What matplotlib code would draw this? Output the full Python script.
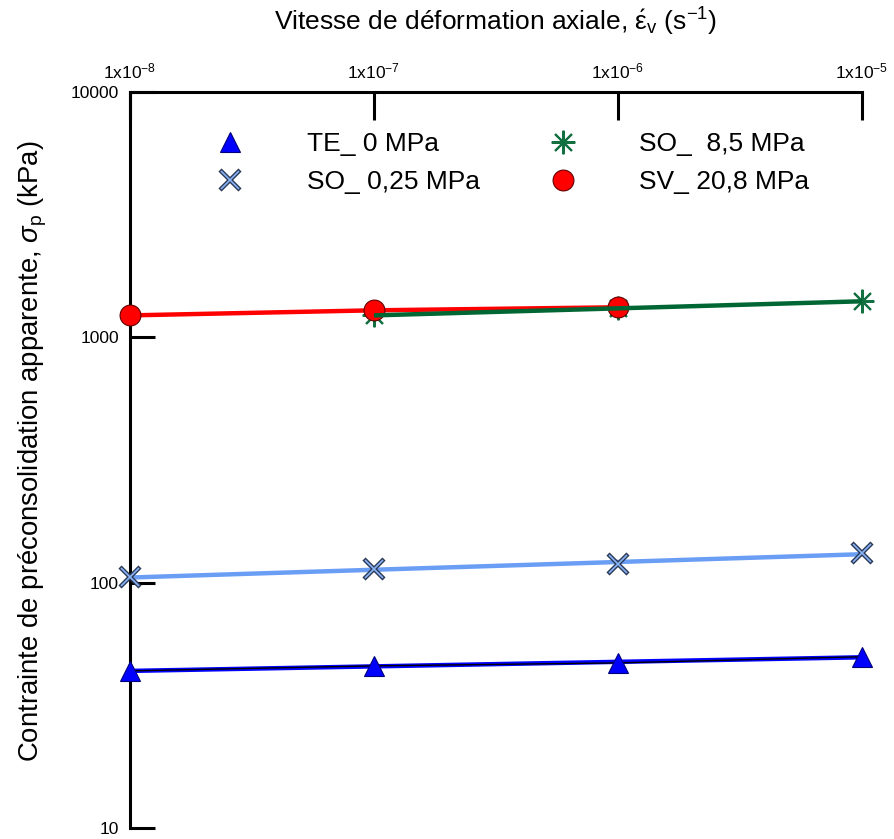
import numpy as np
import matplotlib
matplotlib.use("Agg")
import matplotlib.pyplot as plt
from matplotlib.lines import Line2D
from matplotlib.legend_handler import HandlerTuple

plt.rcParams['font.family'] = ['Liberation Sans', 'DejaVu Sans']
plt.rcParams['mathtext.fontset'] = 'custom'
plt.rcParams['mathtext.rm'] = 'Liberation Sans'
plt.rcParams['mathtext.it'] = 'Liberation Sans:italic'

# vitesses de deformation (s-1)
rates = [1e-8, 1e-7, 1e-6, 1e-5]

# contrainte de preconsolidation (kPa)
te_0 = [43.7, 45.8, 47.1, 49.9]
so_025 = [105, 114, 119, 132]
so_85_rates = [1e-7, 1e-6, 1e-5]
so_85 = [1229, 1313, 1403]
sv_208_rates = [1e-8, 1e-7, 1e-6]
sv_208 = [1229, 1289, 1326]

x_ticks = [1e-8, 1e-7, 1e-6, 1e-5]
x_ticklabels = [r'1x10$^{-8}$', r'1x10$^{-7}$', r'1x10$^{-6}$', r'1x10$^{-5}$']
y_ticks = [10, 100, 1000, 10000]
y_ticklabels = ['10', '100', '1000', '10000']


def fit_line(x, y):
    # droite de tendance en log-log
    lx, ly = np.log10(x), np.log10(y)
    a, b = np.polyfit(lx, ly, 1)
    return np.array(x), 10 ** (a * lx + b)


fig = plt.figure(figsize=(8.94, 8.39), dpi=100)
ax = fig.add_axes([0.1454, 0.0131, 0.8188, 0.8772])
ax.set_xscale('log')
ax.set_yscale('log')
ax.set_xlim(1e-8, 1e-5)
ax.set_ylim(10, 10000)

# TE_ 0 MPa
fx, fy = fit_line(rates, te_0)
ax.plot(fx, fy, color='#0000ff', lw=3.2, zorder=2, solid_capstyle='butt')
ax.plot(rates, te_0, color='black', lw=1.0, zorder=3)
ax.plot(rates, te_0, ls='none', marker='^', ms=14.5, mfc='#0000ff', mec='#00007a',
        mew=0.8, zorder=4, clip_on=False)

# SO_ 0,25 MPa
fx, fy = fit_line(rates, so_025)
ax.plot(fx, fy, color='#6a9ef5', lw=3.2, zorder=2, solid_capstyle='butt')
ax.plot(rates, so_025, ls='none', marker='x', ms=14, mec='#2b3a55', mew=3.2,
        zorder=4, clip_on=False)
ax.plot(rates, so_025, ls='none', marker='x', ms=13, mec='#8ab4f8', mew=1.2,
        zorder=5, clip_on=False)

# SV_ 20,8 MPa
ax.plot(sv_208_rates, sv_208, color='#ff0000', lw=3.2, zorder=2, solid_capstyle='butt')
# SO_ 8,5 MPa
ax.plot(so_85_rates, so_85, ls='none', marker=(8, 2, 0), ms=17, mec='#137040',
        mew=1.5, zorder=4, clip_on=False)
ax.plot(sv_208_rates, sv_208, ls='none', marker='o', ms=15, mfc='#ff0000', mec='#600000',
        mew=0.8, zorder=5, clip_on=False)
ax.plot(so_85_rates, so_85, color='#006633', lw=3.2, zorder=6, solid_capstyle='butt')

# axes
for side in ['bottom', 'right']:
    ax.spines[side].set_visible(False)
for side in ['top', 'left']:
    ax.spines[side].set_linewidth(2.2)
ax.xaxis.set_ticks_position('top')
ax.xaxis.set_label_position('top')
ax.set_xticks(x_ticks)
ax.set_xticklabels(x_ticklabels)
ax.set_yticks(y_ticks)
ax.set_yticklabels(y_ticklabels)
ax.minorticks_off()
ax.tick_params(axis='x', direction='in', length=20, width=2.2, pad=8, labelsize=12.5)
ax.tick_params(axis='y', direction='in', length=18, width=2.2, pad=8, labelsize=12.5)

ax.set_xlabel(r'Vitesse de déformation axiale, $\mathrm{\acute{\epsilon}}_{\rm v}$ (s$^{-1}$)',
              fontsize=19, labelpad=22)
ax.set_ylabel(r'Contrainte de préconsolidation apparente, $\sigma_{\rm p}$ (kPa)',
              fontsize=19.8)
ax.yaxis.set_label_coords(-0.111, 0.512)

# legende
x_under = Line2D([], [], ls='none', marker='x', ms=14, mec='#2b3a55', mew=3.2)
x_over = Line2D([], [], ls='none', marker='x', ms=13, mec='#8ab4f8', mew=1.2)
handles = [
    Line2D([], [], ls='none', marker='^', ms=14.5, mfc='#0000ff', mec='#00007a', mew=0.8),
    (x_under, x_over),
    Line2D([], [], ls='none', marker=(8, 2, 0), ms=17, mec='#137040', mew=1.5),
    Line2D([], [], ls='none', marker='o', ms=15, mfc='#ff0000', mec='#600000', mew=0.8),
]
labels = ['TE_ 0 MPa', 'SO_ 0,25 MPa', 'SO_  8,5 MPa', 'SV_ 20,8 MPa']
ax.legend(handles, labels, ncol=2, frameon=False, fontsize=19, loc='upper left',
          bbox_to_anchor=(0.101, 0.946), borderpad=0, borderaxespad=0,
          handlelength=2.0, handletextpad=1.9, columnspacing=2.15, labelspacing=0.55,
          handler_map={tuple: HandlerTuple(ndivide=1, pad=0)})

fig.savefig('out.png', dpi=100)
